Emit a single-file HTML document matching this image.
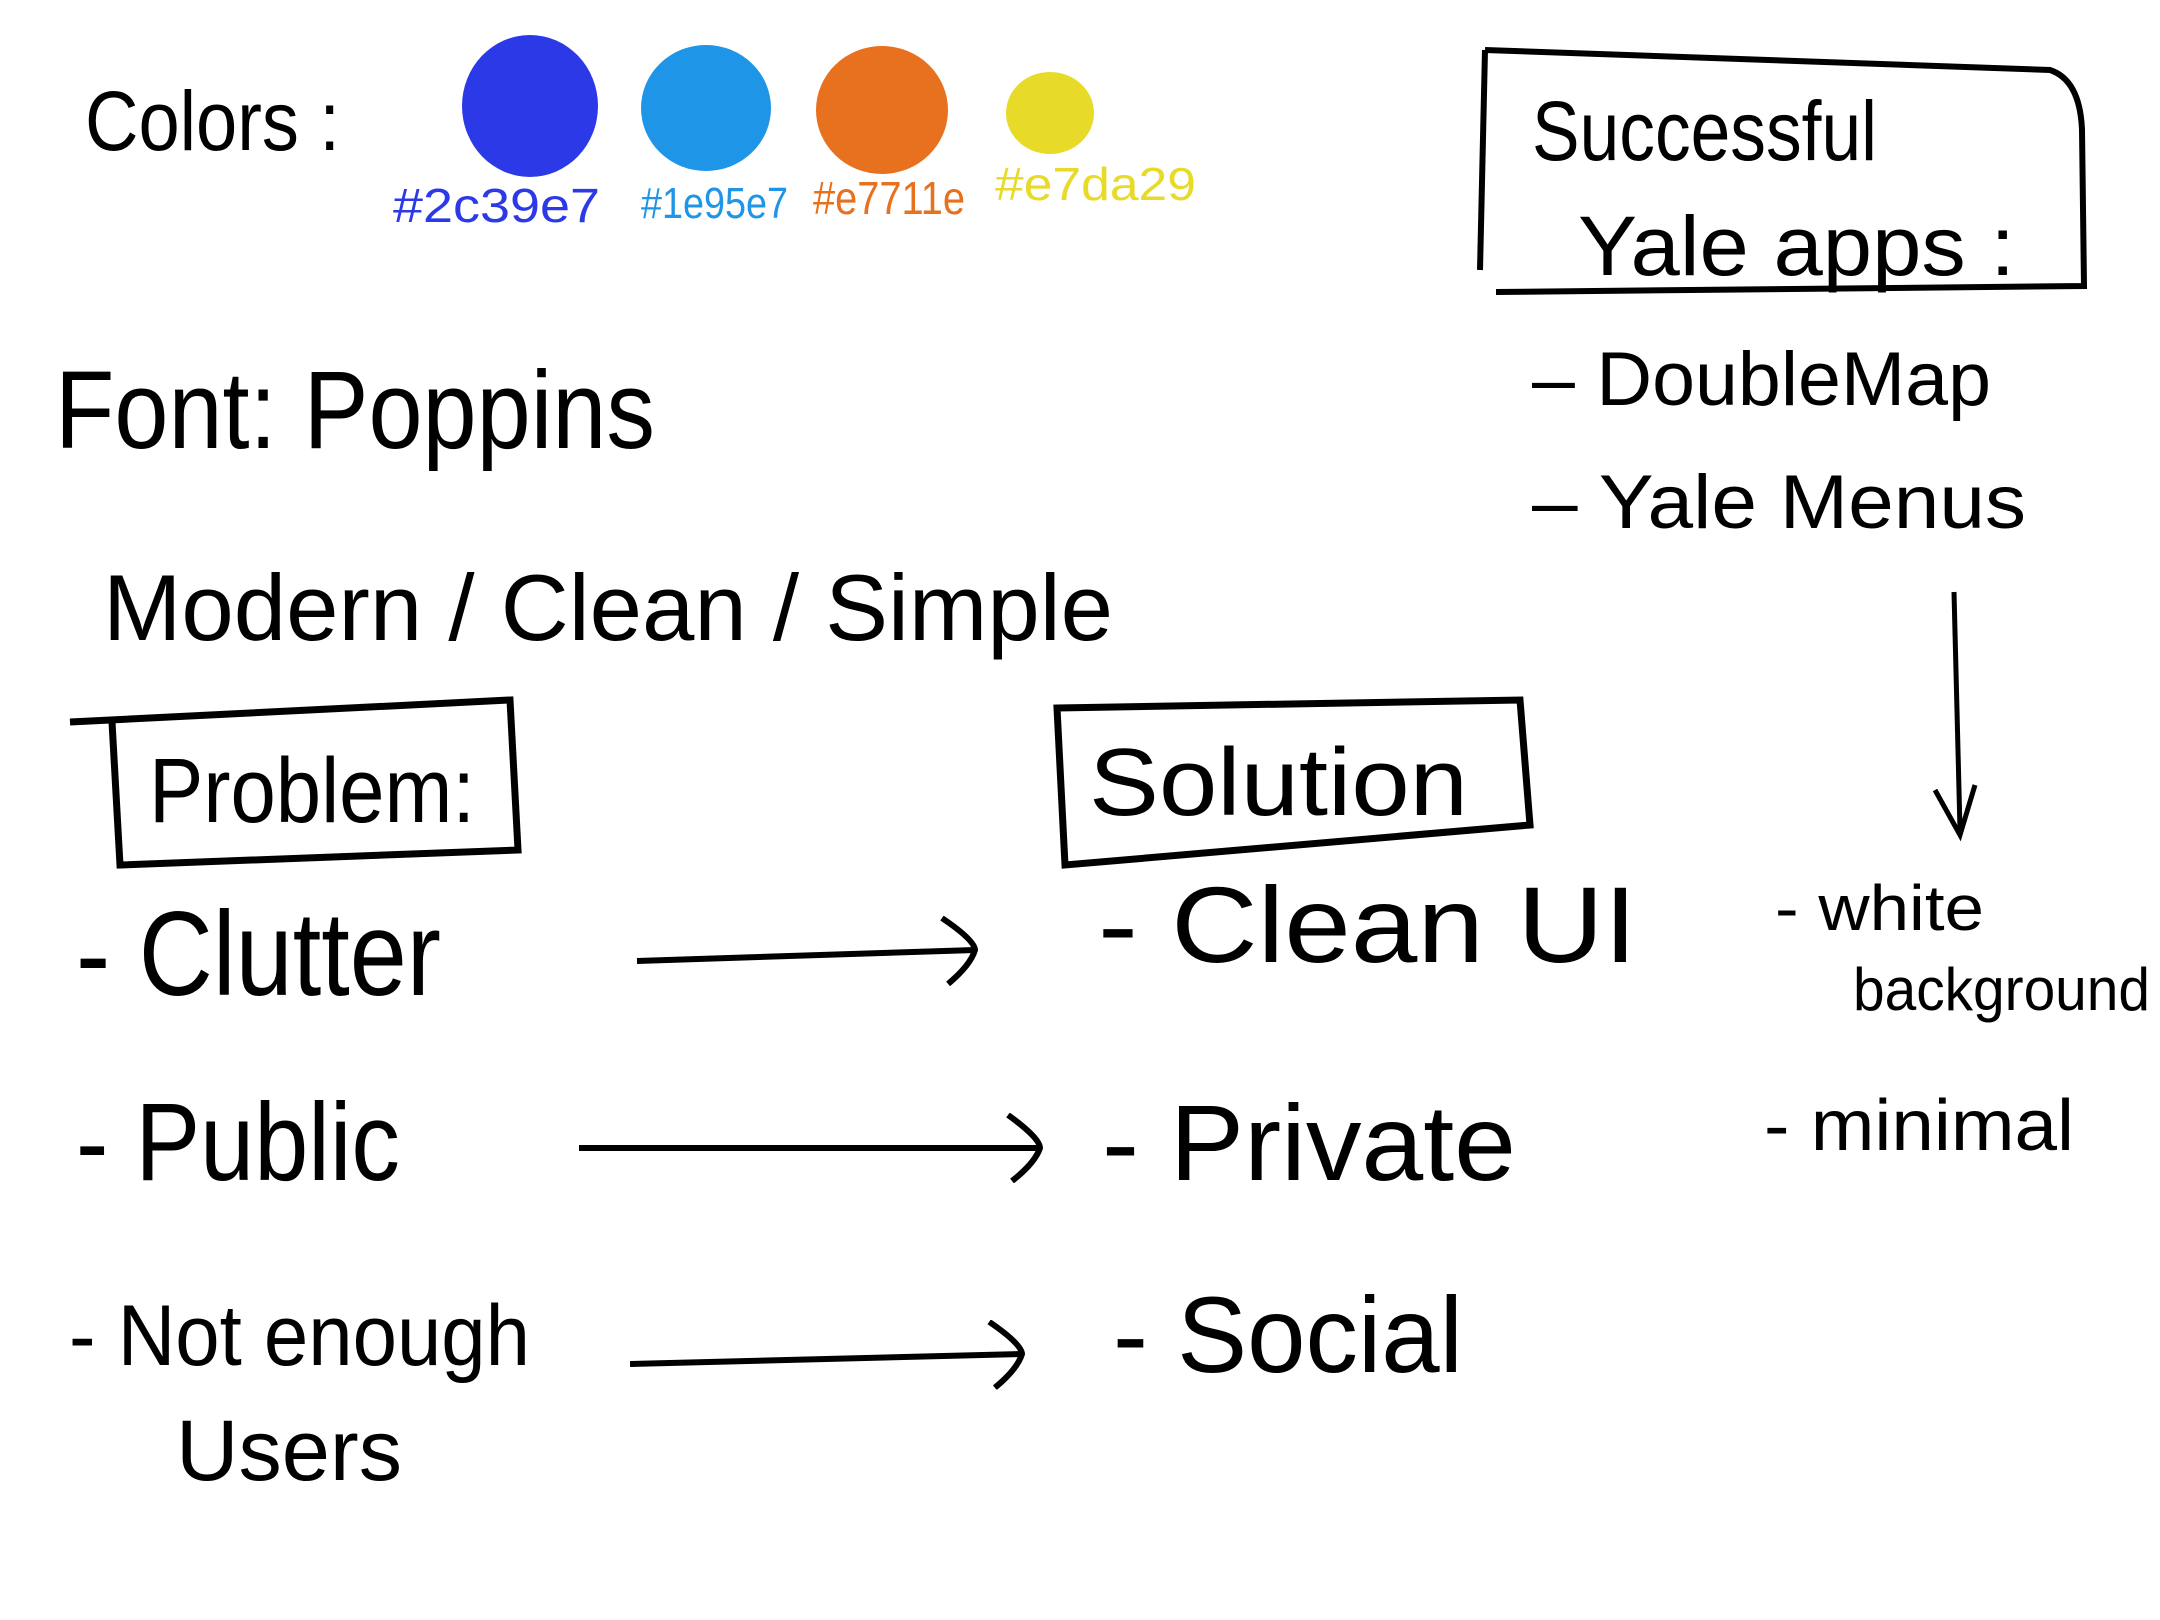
<!DOCTYPE html>
<html><head><meta charset="utf-8"><style>
html,body{margin:0;padding:0;background:#fff;}
svg{display:block;}
text{font-family:"Liberation Sans",sans-serif;fill:#000;}
</style></head><body>
<svg width="2160" height="1620" viewBox="0 0 2160 1620" xmlns="http://www.w3.org/2000/svg">
<defs><marker id="a" markerWidth="44" markerHeight="70" refX="40" refY="35" orient="auto" markerUnits="userSpaceOnUse"><path d="M8,2 Q40,25 40,35 Q35,50 12,68" fill="none" stroke="#000" stroke-width="6"/></marker></defs>
<text x="85" y="150" font-size="84" textLength="255" lengthAdjust="spacingAndGlyphs">Colors :</text>
<ellipse cx="530" cy="106" rx="68" ry="71" fill="#2c39e7"/>
<ellipse cx="706" cy="108" rx="65" ry="63" fill="#1e95e7"/>
<ellipse cx="882" cy="110" rx="66" ry="64" fill="#e7711e"/>
<ellipse cx="1050" cy="113" rx="44" ry="41" fill="#e7da29"/>
<text x="393" y="222" font-size="48" textLength="207" lengthAdjust="spacingAndGlyphs" style="fill:#2c39e7">#2c39e7</text>
<text x="641" y="218" font-size="44" textLength="147" lengthAdjust="spacingAndGlyphs" style="fill:#1e95e7">#1e95e7</text>
<text x="813" y="214" font-size="46" textLength="152" lengthAdjust="spacingAndGlyphs" style="fill:#e7711e">#e7711e</text>
<text x="995" y="200" font-size="46" textLength="201" lengthAdjust="spacingAndGlyphs" style="fill:#e7da29">#e7da29</text>
<path d="M1485,50 L2050,70 Q2080,80 2082,130 L2084,286 L1496,292 M1485,50 L1480,270" fill="none" stroke="#000" stroke-width="6"/>
<text x="1532" y="160" font-size="84" textLength="345" lengthAdjust="spacingAndGlyphs">Successful</text>
<text x="1578" y="275" font-size="84" textLength="437" lengthAdjust="spacingAndGlyphs">Yale apps :</text>
<text x="1532" y="405" font-size="76" textLength="459" lengthAdjust="spacingAndGlyphs">– DoubleMap</text>
<text x="1532" y="528" font-size="76" textLength="494" lengthAdjust="spacingAndGlyphs">– Yale Menus</text>
<path d="M1954,592 L1960,830" stroke="#000" stroke-width="5" fill="none"/>
<path d="M1935,790 L1960,835 L1975,785" stroke="#000" stroke-width="5" fill="none"/>
<text x="55" y="448" font-size="110" textLength="600" lengthAdjust="spacingAndGlyphs">Font:  Poppins</text>
<text x="103" y="640" font-size="94" textLength="1010" lengthAdjust="spacingAndGlyphs">Modern / Clean / Simple</text>
<path d="M70,722 L510,700 L518,850 L120,865 L112,722" fill="none" stroke="#000" stroke-width="7"/>
<text x="149" y="822" font-size="92" textLength="326" lengthAdjust="spacingAndGlyphs">Problem:</text>
<path d="M1057,708 L1520,700 L1530,825 L1065,865 Z" fill="none" stroke="#000" stroke-width="7"/>
<text x="1089" y="815" font-size="96" textLength="379" lengthAdjust="spacingAndGlyphs">Solution</text>
<text x="76" y="995" font-size="120" textLength="365" lengthAdjust="spacingAndGlyphs">- Clutter</text>
<text x="1098" y="962" font-size="108" textLength="539" lengthAdjust="spacingAndGlyphs">- Clean UI</text>
<text x="1775" y="930" font-size="64" textLength="209" lengthAdjust="spacingAndGlyphs">- white</text>
<text x="1853" y="1010" font-size="60" textLength="297" lengthAdjust="spacingAndGlyphs">background</text>
<text x="76" y="1180" font-size="110" textLength="324" lengthAdjust="spacingAndGlyphs">- Public</text>
<text x="1102" y="1180" font-size="108" textLength="414" lengthAdjust="spacingAndGlyphs">- Private</text>
<text x="1764" y="1150" font-size="72" textLength="310" lengthAdjust="spacingAndGlyphs">- minimal</text>
<text x="69" y="1365" font-size="86" textLength="461" lengthAdjust="spacingAndGlyphs">- Not enough</text>
<text x="176" y="1480" font-size="86" textLength="226" lengthAdjust="spacingAndGlyphs">Users</text>
<text x="1113" y="1372" font-size="108" textLength="350" lengthAdjust="spacingAndGlyphs">- Social</text>
<path d="M637,961 L975,950" stroke="#000" stroke-width="6" fill="none" marker-end="url(#a)"/>
<path d="M579,1148 L1040,1148" stroke="#000" stroke-width="6" fill="none" marker-end="url(#a)"/>
<path d="M630,1364 L1022,1354" stroke="#000" stroke-width="6" fill="none" marker-end="url(#a)"/>
</svg>
</body></html>
